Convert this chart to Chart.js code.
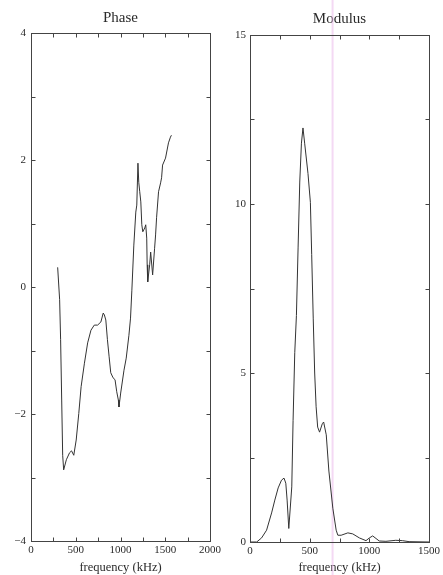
<!DOCTYPE html>
<html><head><meta charset="utf-8">
<script src="https://cdn.jsdelivr.net/npm/chart.js@4"></script>
<style>
html,body{margin:0;padding:0;background:#fff;}
#wrap{position:relative;width:443px;height:575px;overflow:hidden;background:#fff}
#c1{position:absolute;left:0;top:0}
#c2{position:absolute;left:224px;top:0}
</style></head><body>
<div id="wrap"><canvas id="c1" width="224" height="575"></canvas><canvas id="c2" width="219" height="575"></canvas></div>
<script>
// ---- Data ----
const phaseTitle = "Phase";
const modulusTitle = "Modulus";
const xAxisLabel = "frequency (kHz)";

const phaseFreq = [298,320,331,343,354,365,395,431,453,478,505,534,560,597,633,670,707,744,781,807,820,836,854,873,891,917,939,958,976,983,1002,1039,1064,1094,1112,1127,1149,1171,1182,1195,1204,1215,1227,1238,1249,1271,1282,1293,1298,1304,1326,1337,1359,1381,1392,1403,1425,1448,1459,1470,1503,1514,1536,1558,1569];
const phaseVal  = [0.31,-0.2,-0.83,-1.78,-2.65,-2.88,-2.72,-2.61,-2.58,-2.65,-2.41,-1.99,-1.57,-1.2,-0.88,-0.68,-0.6,-0.6,-0.55,-0.41,-0.44,-0.52,-0.83,-1.1,-1.35,-1.43,-1.46,-1.65,-1.78,-1.89,-1.67,-1.31,-1.12,-0.76,-0.49,-0.05,0.66,1.18,1.29,1.95,1.65,1.5,1.34,0.98,0.87,0.93,0.98,0.77,0.35,0.08,0.35,0.55,0.19,0.61,0.82,1.09,1.5,1.64,1.72,1.92,2.03,2.11,2.27,2.36,2.39];

const modFreq = [0,56,97,139,181,208,236,264,285,300,311,325,350,361,375,389,403,417,431,444,458,486,506,517,530,542,554,567,583,606,617,639,661,694,722,736,764,820,861,917,972,1000,1028,1083,1139,1222,1278,1333,1500];
const modVal  = [0,0,0.12,0.35,0.86,1.24,1.6,1.83,1.89,1.74,1.24,0.4,1.63,3.6,5.6,6.7,8.7,10.65,11.8,12.25,11.8,10.9,10.05,8.5,6.6,5.0,4.0,3.4,3.25,3.5,3.55,3.17,2.1,1.0,0.35,0.2,0.2,0.27,0.24,0.12,0.04,0.12,0.18,0.03,0.02,0.05,0.04,0.01,0];

// scan artifact: faint pink vertical stripe in the modulus panel
const stripeFreq = [692, 692];
const stripeVal  = [-1, 16.2];

const phaseXRange = [0, 2000], phaseXStep = 500, phaseXMinor = 250;
const phaseYRange = [-4, 4], phaseYStep = 2, phaseYMinor = 1;
const modXRange = [0, 1500], modXStep = 500, modXMinor = 250;
const modYRange = [0, 15], modYStep = 5, modYMinor = 2.5;

// ---- helpers ----
const pts = (xs, ys) => xs.map((x, i) => ({x, y: ys[i]}));
const fmt = v => v < 0 ? '\u2212' + Math.abs(v) : String(v);
const SERIF = "'Liberation Serif', 'DejaVu Serif', serif";
const INK = '#2a2a2a';

const framePlugin = {
  id: 'frame',
  afterDatasetsDraw(chart, args, o) {
    const {ctx, chartArea: a, scales: {x, y}} = chart;
    ctx.save();
    ctx.strokeStyle = '#444';
    ctx.lineWidth = 1;
    const L = Math.round(a.left) + 0.5, T = Math.round(a.top) + 0.5;
    const R = Math.round(a.right) + 0.5, B = Math.round(a.bottom) + 0.5;
    ctx.strokeRect(L, T, R - L, B - T);
    ctx.beginPath();
    for (let v = x.min; v <= x.max + 1e-9; v += o.xMinor) {
      const p = Math.round(x.getPixelForValue(v)) + 0.5;
      ctx.moveTo(p, B); ctx.lineTo(p, B - 4);
      ctx.moveTo(p, T); ctx.lineTo(p, T + 4);
    }
    for (let v = y.min; v <= y.max + 1e-9; v += o.yMinor) {
      const p = Math.round(y.getPixelForValue(v)) + 0.5;
      ctx.moveTo(L, p); ctx.lineTo(L + 4, p);
      ctx.moveTo(R, p); ctx.lineTo(R - 4, p);
    }
    ctx.stroke();
    ctx.restore();
  }
};

function makeChart(id, cfg) {
  return new Chart(document.getElementById(id), {
    type: 'scatter',
    data: { datasets: cfg.datasets },
    options: {
      responsive: false,
      animation: false,
      devicePixelRatio: 1,
      layout: { padding: { left: 0, right: cfg.padRight, top: 0, bottom: 0 } },
      plugins: {
        legend: { display: false },
        tooltip: { enabled: false },
        title: { display: false },
        frame: { xMinor: cfg.xMinor, yMinor: cfg.yMinor }
      },
      scales: {
        x: {
          type: 'linear', position: 'bottom', min: cfg.xRange[0], max: cfg.xRange[1],
          grid: { display: false, drawTicks: false }, border: { display: false },
          ticks: { stepSize: cfg.xStep, color: INK, padding: 3, maxRotation: 0,
                   font: { family: SERIF, size: 11 }, callback: fmt },
          title: { display: true, text: xAxisLabel, color: INK, padding: 0,
                   font: { family: SERIF, size: 12.5, lineHeight: 1.2 } },
          afterFit: s => { s.height = cfg.xHeight; }
        },
        top: {
          type: 'linear', position: 'top', axis: 'x', min: cfg.xRange[0], max: cfg.xRange[1],
          grid: { display: false, drawTicks: false }, border: { display: false },
          ticks: { display: false },
          title: { display: true, text: cfg.title, color: INK,
                   padding: { top: cfg.titlePad, bottom: 0 },
                   font: { family: SERIF, size: 15, lineHeight: 1.2 } },
          afterFit: s => { s.height = cfg.topHeight; }
        },
        y: {
          type: 'linear', min: cfg.yRange[0], max: cfg.yRange[1],
          grid: { display: false, drawTicks: false }, border: { display: false },
          ticks: { stepSize: cfg.yStep, color: INK, padding: cfg.yPad,
                   font: { family: SERIF, size: 11 }, callback: fmt },
          afterFit: s => { s.width = cfg.yWidth; }
        }
      }
    },
    plugins: [framePlugin]
  });
}

makeChart('c1', {
  title: phaseTitle, titlePad: 9, topHeight: 33,
  padRight: 12, xHeight: 34, yWidth: 31, yPad: 5,
  xRange: phaseXRange, xStep: phaseXStep, xMinor: phaseXMinor,
  yRange: phaseYRange, yStep: phaseYStep, yMinor: phaseYMinor,
  datasets: [{
    data: pts(phaseFreq, phaseVal), showLine: true, pointRadius: 0,
    borderColor: '#333', borderWidth: 1, tension: 0, xAxisID: 'x'
  }]
});

makeChart('c2', {
  title: modulusTitle, titlePad: 10, topHeight: 35,
  padRight: 13, xHeight: 33, yWidth: 26, yPad: 4,
  xRange: modXRange, xStep: modXStep, xMinor: modXMinor,
  yRange: modYRange, yStep: modYStep, yMinor: modYMinor,
  datasets: [{
    data: pts(modFreq, modVal), showLine: true, pointRadius: 0,
    borderColor: '#333', borderWidth: 1, tension: 0, order: 0, xAxisID: 'x'
  }, {
    data: pts(stripeFreq, stripeVal), showLine: true, pointRadius: 0,
    borderColor: 'rgba(235,185,235,0.55)', borderWidth: 2, clip: false, order: 1, xAxisID: 'x'
  }]
});
</script>
</body></html>
